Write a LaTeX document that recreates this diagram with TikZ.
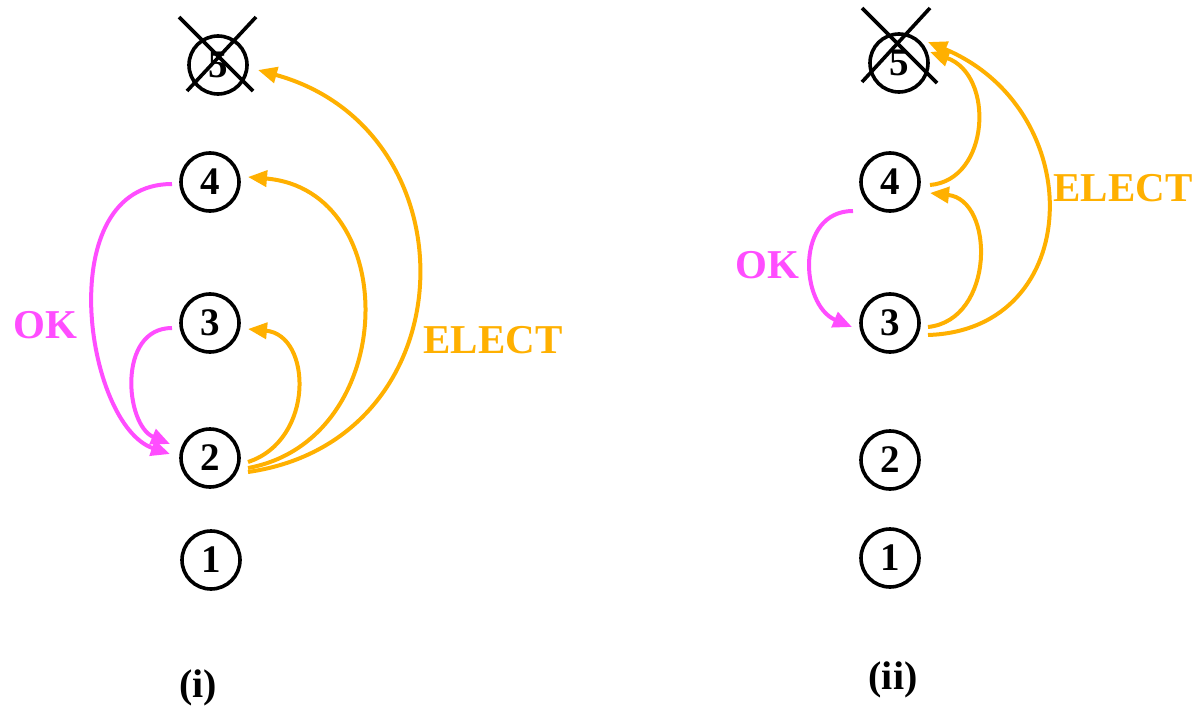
\documentclass[tikz,border=0pt]{standalone}
\usepackage{fontspec}
\setmainfont{Liberation Serif}
\usetikzlibrary{arrows.meta,calc}
\definecolor{okpink}{RGB}{255,77,255}
\definecolor{electorange}{RGB}{255,176,0}
\begin{document}
\begin{tikzpicture}[x=1pt,y=-1pt,
  proc/.style={circle,draw,line width=3.6pt,minimum size=58pt,inner sep=0pt,
    font=\fontsize{39}{42}\selectfont\bfseries},
  msg/.style={line width=4pt,-{Triangle[length=19pt,width=16pt]}},
  okmsg/.style={msg,draw=okpink},
  electmsg/.style={msg,draw=electorange},
  msglabel/.style={font=\fontsize{41}{44}\selectfont\bfseries},
  caption/.style={font=\fontsize{40}{44}\selectfont\bfseries},
  crossout/.style={line width=3.6pt}]
\useasboundingbox (0,0) rectangle (1197,706);

% ---------- panel (i) ----------
\node[proc] (a5) at (218,65) {5};
\node[proc] (a4) at (210,182) {4};
\node[proc] (a3) at (210,323) {3};
\node[proc] (a2) at (210,458) {2};
\node[proc] (a1) at (211,560) {1};
\draw[crossout] ($(a5)+(-39,-48)$) -- ($(a5)+(35,26)$);
\draw[crossout] ($(a5)+(38,-48)$) -- ($(a5)+(-31,26)$);

\draw[okmsg] ($(a4)+(-38,2)$) .. controls +(-122,0) and +(-85,-29) .. ($(a2)+(-40,-4)$);
\draw[okmsg] ($(a3)+(-38,5)$) .. controls +(-55,0) and +(-45,-19) .. ($(a2)+(-40,-14)$);

\draw[electmsg] ($(a2)+(38,4)$) .. controls +(67,-22) and +(64,6) .. ($(a3)+(38,6)$);
\draw[electmsg] ($(a2)+(38,10)$) .. controls +(152,-28) and +(155,13) .. ($(a4)+(38,-5)$);
\draw[electmsg] ($(a2)+(38,14)$) .. controls +(222,-32) and +(218,60) .. ($(a5)+(40,5)$);

\node[msglabel,text=okpink] (aok) at (45,325) {OK};
\node[msglabel,text=electorange] (aelect) at (493,340) {ELECT};
\node[caption] (acap) at (198,688) {(i)};

% ---------- panel (ii) ----------
\node[proc] (b5) at (899,63) {5};
\node[proc] (b4) at (890,182) {4};
\node[proc] (b3) at (890,323) {3};
\node[proc] (b2) at (890,460) {2};
\node[proc] (b1) at (890,558) {1};
\draw[crossout] ($(b5)+(-37,-55)$) -- ($(b5)+(38,20)$);
\draw[crossout] ($(b5)+(31,-55)$) -- ($(b5)+(-37,19)$);

\draw[okmsg] ($(b4)+(-37,29)$) .. controls +(-58,0) and +(-52,-22) .. ($(b3)+(-38,4)$);

\draw[electmsg] ($(b3)+(38,4)$) .. controls +(67,-7) and +(65,7) .. ($(b4)+(40,11)$);
\draw[electmsg] ($(b3)+(38,12)$) .. controls +(157,-5) and +(162,68) .. ($(b5)+(29,-21)$);
\draw[electmsg] ($(b4)+(40,3)$) .. controls +(60,-5) and +(65,23) .. ($(b5)+(31,-11)$);

\node[msglabel,text=okpink] (bok) at (767,265) {OK};
\node[msglabel,text=electorange] (belect) at (1123,188) {ELECT};
\node[caption] (bcap) at (893,680) {(ii)};
\end{tikzpicture}
\end{document}
